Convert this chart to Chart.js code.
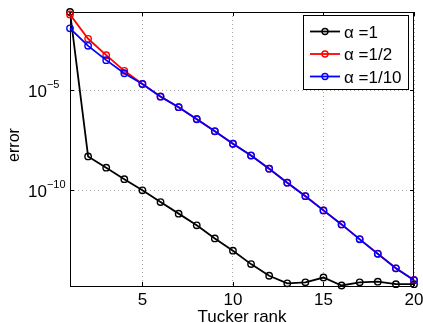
<!DOCTYPE html>
<html lang="en">
<head>
  <meta charset="UTF-8" />
  <title>Error vs Tucker rank</title>
  <script src="https://cdn.jsdelivr.net/npm/chart.js"></script>
  <style>
    html, body { margin: 0; padding: 0; background: #fff; }
    #wrap { width: 423px; height: 323px; }
  </style>
</head>
<body>
  <div id="wrap"><canvas id="grafico" width="423" height="323"></canvas></div>

  <script>
    // data
    const ranks = [1, 2, 3, 4, 5, 6, 7, 8, 9, 10, 11, 12, 13, 14, 15, 16, 17, 18, 19, 20];
    const errAlpha1 = [7.8e-2, 4.9e-9, 1.35e-9, 3.6e-10, 1.0e-10, 2.6e-11, 6.9e-12, 1.8e-12, 4.0e-13, 9.8e-14,
                       2.1e-14, 5.5e-15, 2.3e-15, 2.6e-15, 4.5e-15, 1.8e-15, 2.6e-15, 2.8e-15, 2.1e-15, 2.1e-15];
    const errAlphaHalf = [5.9e-2, 3.6e-3, 5.5e-4, 9.1e-5, 2.0e-5, 4.8e-6, 1.4e-6, 3.6e-7, 8.9e-8, 2.1e-8,
                          5.5e-9, 1.2e-9, 2.4e-10, 5.2e-11, 1.0e-11, 2.0e-12, 3.7e-13, 6.9e-14, 1.3e-14, 3.4e-15];
    const errAlphaTenth = [1.2e-2, 1.6e-3, 3.1e-4, 6.9e-5, 2.0e-5, 4.7e-6, 1.4e-6, 3.5e-7, 8.8e-8, 2.1e-8,
                           5.4e-9, 1.2e-9, 2.4e-10, 5.1e-11, 1.0e-11, 2.0e-12, 3.6e-13, 6.8e-14, 1.3e-14, 3.3e-15];
    const seriesNames = ['\u03b1 =1', '\u03b1 =1/2', '\u03b1 =1/10'];
    const xTicks = [5, 10, 15, 20];
    const yTicks = [1e-10, 1e-5];
    const yTickExps = ['\u221210', '\u22125'];

    const FONT = '"Liberation Sans", Arial, sans-serif';

    function pts(vals) {
      return ranks.map((r, i) => ({ x: r, y: vals[i] }));
    }

    function serie(label, vals, cor, ordem) {
      return {
        label: label,
        data: pts(vals),
        borderColor: cor,
        backgroundColor: cor,
        borderWidth: 1.8,
        pointRadius: 3.2,
        pointBorderWidth: 1.4,
        pointBackgroundColor: 'rgba(0,0,0,0)',
        pointBorderColor: cor,
        tension: 0,
        clip: false,
        order: ordem
      };
    }

    // frame, ticks, labels and legend in the matlab look
    const moldura = {
      id: 'moldura',
      beforeDatasetsDraw(chart) {
        const { ctx, chartArea: a, scales: { x, y } } = chart;
        ctx.save();
        ctx.strokeStyle = '#000';
        ctx.lineWidth = 1;
        ctx.strokeRect(a.left + 0.5, a.top + 0.5, a.right - a.left - 1, a.bottom - a.top);
        ctx.beginPath();
        xTicks.forEach(v => {
          const px = Math.round(x.getPixelForValue(v)) + 0.5;
          ctx.moveTo(px, a.bottom); ctx.lineTo(px, a.bottom - 4);
          ctx.moveTo(px, a.top); ctx.lineTo(px, a.top + 4);
        });
        yTicks.forEach(v => {
          const py = Math.round(y.getPixelForValue(v)) + 0.5;
          ctx.moveTo(a.left, py); ctx.lineTo(a.left + 4, py);
          ctx.moveTo(a.right, py); ctx.lineTo(a.right - 4, py);
        });
        ctx.stroke();
        ctx.restore();
      },
      afterDraw(chart) {
        const { ctx, chartArea: a, scales: { x, y } } = chart;
        ctx.save();
        ctx.fillStyle = '#000';
        ctx.font = '17px ' + FONT;

        // x tick labels
        ctx.textAlign = 'center';
        ctx.textBaseline = 'alphabetic';
        xTicks.forEach(v => ctx.fillText(String(v), x.getPixelForValue(v), 305));

        // y tick labels 10^n
        ctx.textAlign = 'left';
        yTicks.forEach((v, i) => {
          const py = y.getPixelForValue(v);
          ctx.font = '17px ' + FONT;
          ctx.fillText('10', 28, py + 7);
          const w = ctx.measureText('10').width;
          ctx.font = '11px ' + FONT;
          ctx.fillText(yTickExps[i], 28 + w, py - 2);
        });

        // axis titles
        ctx.font = '17px ' + FONT;
        ctx.textAlign = 'center';
        ctx.fillText('Tucker rank', (a.left + a.right) / 2, 322);
        ctx.save();
        ctx.font = '16px ' + FONT;
        ctx.translate(19, 145);
        ctx.rotate(-Math.PI / 2);
        ctx.fillText('error', 0, 0);
        ctx.restore();

        // legend
        const bx = 303.5, by = 15.5, bw = 105, bh = 74;
        ctx.fillStyle = '#fff';
        ctx.fillRect(bx, by, bw, bh);
        ctx.strokeStyle = '#000';
        ctx.lineWidth = 1;
        ctx.strokeRect(bx, by, bw, bh);
        chart.data.datasets.forEach((ds, i) => {
          const cy = 31.5 + i * 22.5;
          ctx.strokeStyle = ds.borderColor;
          ctx.lineWidth = 1.8;
          ctx.beginPath();
          ctx.moveTo(310, cy); ctx.lineTo(340, cy);
          ctx.stroke();
          ctx.lineWidth = 1.4;
          ctx.beginPath();
          ctx.arc(325, cy, 3, 0, Math.PI * 2);
          ctx.stroke();
          ctx.fillStyle = '#000';
          ctx.font = '17px ' + FONT;
          ctx.textAlign = 'left';
          ctx.fillText(ds.label, 344, cy + 6);
        });
        ctx.restore();
      }
    };

    const ctx = document.getElementById('grafico').getContext('2d');
    const chart = new Chart(ctx, {
      type: 'line',
      data: {
        datasets: [
          serie(seriesNames[0], errAlpha1, '#000000', 2),
          serie(seriesNames[1], errAlphaHalf, '#ff0000', 1),
          serie(seriesNames[2], errAlphaTenth, '#0000ff', 0)
        ]
      },
      options: {
        responsive: false,
        animation: false,
        devicePixelRatio: 1,
        layout: { padding: { top: 12, right: 9, left: 0, bottom: 0 } },
        plugins: { legend: { display: false }, tooltip: { enabled: false } },
        scales: {
          x: {
            type: 'linear',
            min: 1,
            max: 20,
            afterBuildTicks: s => { s.ticks = xTicks.map(v => ({ value: v })); },
            afterFit: s => { s.height = 37; },
            ticks: { display: false },
            grid: { color: '#a8a8a8', lineWidth: 1, drawTicks: false },
            border: { display: false, dash: [1, 3] }
          },
          y: {
            type: 'logarithmic',
            min: 1.7e-15,
            max: 7.8e-2,
            afterBuildTicks: s => { s.ticks = yTicks.map(v => ({ value: v })); },
            afterFit: s => { s.width = 70; },
            ticks: { display: false },
            grid: { color: '#a8a8a8', lineWidth: 1, drawTicks: false },
            border: { display: false, dash: [1, 3] }
          }
        }
      },
      plugins: [moldura]
    });
  </script>
</body>
</html>
